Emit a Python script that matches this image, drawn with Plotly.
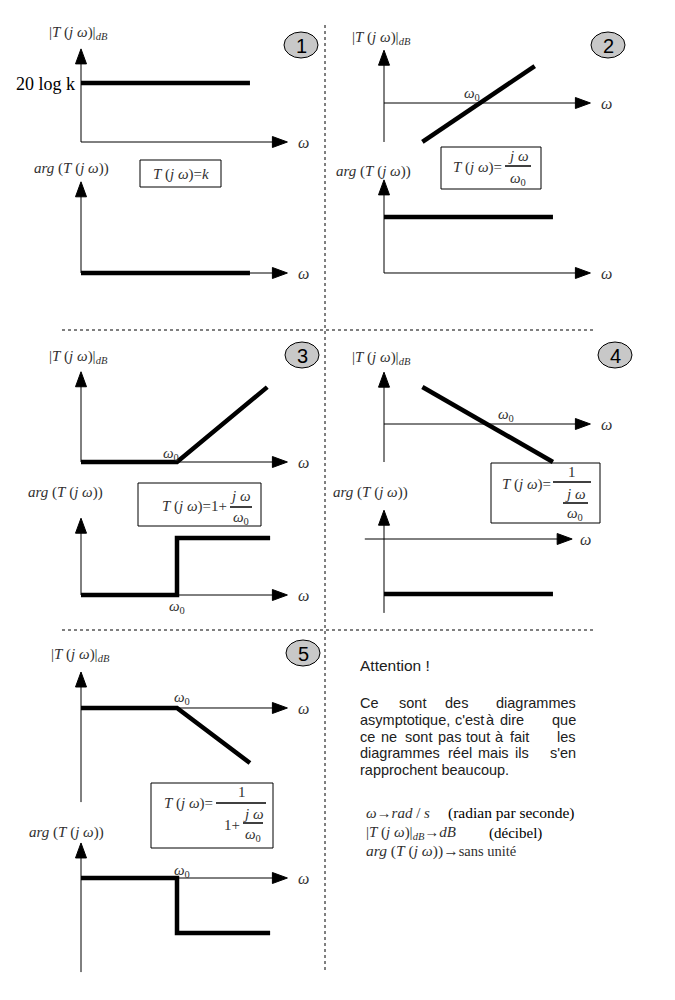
import plotly.graph_objects as go

# ---------------- data: asymptotic Bode curves (ω in units of ω0, arbitrary level units) ----------------
p1_gain_w = [0.0, 1.76]
p1_gain_v = [0.615, 0.615]
p1_phase_w = [0.0, 1.76]
p1_phase_v = [0.0, 0.0]

p2_gain_w = [0.4, 1.57]
p2_gain_v = [-0.406, 0.385]
p2_phase_w = [0.0, 1.76]
p2_phase_v = [0.583, 0.583]

p3_gain_w = [0.0, 1.0, 1.94]
p3_gain_v = [0.0, 0.0, 0.78]
p3_phase_w = [0.0, 1.0, 1.0, 1.97]
p3_phase_v = [0.0, 0.0, 0.594, 0.594]

p4_gain_w = [0.4, 1.76]
p4_gain_v = [0.385, -0.396]
p4_phase_w = [0.0, 1.76]
p4_phase_v = [-0.573, -0.573]

p5_gain_w = [0.0, 1.0, 1.76]
p5_gain_v = [0.0, 0.0, -0.573]
p5_phase_w = [0.0, 1.0, 1.0, 1.97]
p5_phase_v = [0.0, 0.0, -0.573, -0.573]

panel_numbers = ["1", "2", "3", "4", "5"]

# ---------------- layout constants ----------------
OFF = 8                       # default page margin around the plot div
W, H = 667, 984
S = 96.0                      # pixels per unit on every small diagram
ARW_L, ARW_H = 15 / S, 5.5 / S
SERIF = "Liberation Serif"
SANS = "Liberation Sans"
TXT = "#303030"

diagrams = [
    dict(o=(81, 142), x=(0, 2.15), y=(0, 0.97), w=p1_gain_w, v=p1_gain_v),
    dict(o=(81, 273), x=(0, 2.15), y=(0, 0.95), w=p1_phase_w, v=p1_phase_v),
    dict(o=(384, 103), x=(0, 2.15), y=(-0.406, 0.55), w=p2_gain_w, v=p2_gain_v),
    dict(o=(384, 273), x=(0, 2.15), y=(0, 0.97), w=p2_phase_w, v=p2_phase_v),
    dict(o=(81, 462), x=(0, 2.15), y=(0, 0.94), w=p3_gain_w, v=p3_gain_v),
    dict(o=(81, 595), x=(0, 2.15), y=(0, 0.80), w=p3_phase_w, v=p3_phase_v),
    dict(o=(384, 424), x=(0, 2.15), y=(-0.396, 0.54), w=p4_gain_w, v=p4_gain_v),
    dict(o=(384, 539), x=(-0.2, 1.96), y=(-0.77, 0.30), w=p4_phase_w, v=p4_phase_v),
    dict(o=(81, 708), x=(0, 2.15), y=(-0.98, 0.375), w=p5_gain_w, v=p5_gain_v),
    dict(o=(81, 878), x=(0, 2.15), y=(-0.98, 0.365), w=p5_phase_w, v=p5_phase_v),
]


def P(x, y):
    return (x - OFF) / W, 1 - (y - OFF) / H


fig = go.Figure()
axes_layout = {}
for i, d in enumerate(diagrams, start=1):
    ox, oy = d["o"]
    xr = [d["x"][0] - 0.3, d["x"][1] + 0.3]
    yr = [d["y"][0] - 0.2, d["y"][1] + 0.2]
    xdom = [P(ox + xr[0] * S, 0)[0], P(ox + xr[1] * S, 0)[0]]
    ydom = [P(0, oy - yr[0] * S)[1], P(0, oy - yr[1] * S)[1]]
    sx = "" if i == 1 else str(i)
    axes_layout["xaxis" + sx] = dict(domain=xdom, range=xr, visible=False, fixedrange=True, anchor="y" + sx)
    axes_layout["yaxis" + sx] = dict(domain=ydom, range=yr, visible=False, fixedrange=True, anchor="x" + sx)
    xa, ya = "x" + sx, "y" + sx
    xs, xt = d["x"]
    ys, yt = d["y"]
    line1 = dict(color="black", width=1)
    # x axis
    fig.add_trace(go.Scatter(x=[xs, xt - ARW_L * 0.5], y=[0, 0], mode="lines", line=line1,
                             xaxis=xa, yaxis=ya, hoverinfo="skip", cliponaxis=False))
    fig.add_trace(go.Scatter(x=[xt, xt - ARW_L, xt - ARW_L, xt], y=[0, ARW_H, -ARW_H, 0], mode="lines",
                             fill="toself", fillcolor="black", line=dict(color="black", width=1),
                             xaxis=xa, yaxis=ya, hoverinfo="skip", cliponaxis=False))
    # y axis
    fig.add_trace(go.Scatter(x=[0, 0], y=[ys, yt - ARW_L * 0.5], mode="lines", line=line1,
                             xaxis=xa, yaxis=ya, hoverinfo="skip", cliponaxis=False))
    fig.add_trace(go.Scatter(x=[0, ARW_H, -ARW_H, 0], y=[yt, yt - ARW_L, yt - ARW_L, yt], mode="lines",
                             fill="toself", fillcolor="black", line=dict(color="black", width=1),
                             xaxis=xa, yaxis=ya, hoverinfo="skip", cliponaxis=False))
    # asymptotic curve
    fig.add_trace(go.Scatter(x=d["w"], y=d["v"], mode="lines", line=dict(color="black", width=4.5),
                             xaxis=xa, yaxis=ya, hoverinfo="skip", cliponaxis=False))


annotations = []


def A(x, y, text, size=15, family=SERIF, xa="left", color=TXT):
    px, py = P(x, y)
    annotations.append(dict(x=px, y=py, xref="paper", yref="paper", text=text, showarrow=False,
                            xanchor=xa, yanchor="middle", font=dict(size=size, family=family, color=color)))


shapes = []


def L(x0, y0, x1, y1, width=1.5, dash=None):
    a, b = P(x0, y0)
    c, d = P(x1, y1)
    ln = dict(color="black", width=width)
    if dash:
        ln["dash"] = dash
    shapes.append(dict(type="line", xref="paper", yref="paper", x0=a, y0=b, x1=c, y1=d, line=ln))


def R(x0, y0, x1, y1):
    a, b = P(x0, y0)
    c, d = P(x1, y1)
    shapes.append(dict(type="rect", xref="paper", yref="paper", x0=a, y0=b, x1=c, y1=d,
                       line=dict(color="black", width=1), fillcolor="rgba(0,0,0,0)"))


def C(cx, cy, rx, ry, label):
    a, b = P(cx - rx, cy - ry)
    c, d = P(cx + rx, cy + ry)
    shapes.append(dict(type="circle", xref="paper", yref="paper", x0=a, y0=b, x1=c, y1=d,
                       line=dict(color="black", width=1), fillcolor="#c8c8c8"))
    A(cx, cy + 1, label, size=20, family=SANS, xa="center", color="black")


GAIN = "|<i>T</i> (<i>j ω</i>)|<sub><i>dB</i></sub>"
PHASE = "<i>arg</i> (<i>T</i> (<i>j ω</i>))"
TJW = "<i>T</i> (<i>j ω</i>)="
OM = "<i>ω</i>"
OM0 = "<i>ω</i><sub>0</sub>"
JW = "<i>j ω</i>"

# separators
L(325, 25, 325, 972, width=1, dash="dot")
L(62, 330, 593, 330, width=1, dash="dot")
L(62, 630, 593, 630, width=1, dash="dot")

# panel numbers
C(301, 45, 17, 13, panel_numbers[0])
C(608, 45, 17, 13, panel_numbers[1])
C(302, 355, 17, 13, panel_numbers[2])
C(615, 355, 17, 13, panel_numbers[3])
C(303, 653, 17, 13, panel_numbers[4])

# axis labels
A(47, 33, GAIN)
A(32, 169, PHASE)
A(350, 38, GAIN)
A(334, 171, PHASE)
A(47, 357, GAIN)
A(26, 492, PHASE)
A(350, 358, GAIN)
A(331, 492, PHASE)
A(49, 655, GAIN)
A(27, 832, PHASE)

# omega labels at axis tips
for (x, y) in [(303, 142), (303, 273), (606, 103), (606, 273), (303, 462), (303, 595),
               (606, 424), (585, 539), (303, 708), (303, 878)]:
    A(x, y, OM, size=16, xa="center")

# omega0 labels
A(472, 94, OM0, xa="center")
A(171, 454, OM0, xa="center")
A(177, 607, OM0, xa="center")
A(506, 415, OM0, xa="center")
A(182, 698, OM0, xa="center")
A(182, 871, OM0, xa="center")

# "20 log k"
A(77, 84, "20 log k", size=18, family=SERIF, xa="right", color="black")

# box 1
R(140, 160, 221, 187)
A(180.5, 174, TJW + "<i>k</i>", xa="center")
# box 2
R(441, 147, 541, 189)
A(504, 167, TJW, xa="right")
A(518, 156, JW, xa="center")
L(505, 166, 531, 166)
A(518, 179, OM0, xa="center")
# box 3
R(138, 483, 261, 526)
A(229, 506, TJW + "1+", xa="right")
A(241, 496, JW, xa="center")
L(230, 507, 252, 507)
A(241, 518, OM0, xa="center")
# box 4
R(491, 463, 600, 523)
A(553, 484, TJW, xa="right")
A(572, 472, "1", xa="center")
L(553, 482, 591, 482)
A(575, 494, JW, xa="center")
L(563, 503, 588, 503)
A(575, 514, OM0, xa="center")
# box 5
R(151, 783, 273, 848)
A(215, 803, TJW, xa="right")
A(242, 792, "1", xa="center")
L(216, 803, 266, 803)
A(242, 825, "1+", xa="right")
A(253, 814, JW, xa="center")
L(243, 823, 263, 823)
A(253, 835, OM0, xa="center")

# text block (justified: first word left, last word right, others centred)
PS = 14.5
PC = "#202020"
A(358, 665, "Attention !", size=15.5, family=SANS, color=PC)
para = [
    (703, "Ce", [("sont", 412.5), ("des", 456.5)], "diagrammes"),
    (720, "asymptotique,", [("c'est", 469), ("à", 490), ("dire", 512)], "que"),
    (737, "ce", [("ne", 388.5), ("sont", 418), ("pas", 449), ("tout", 478), ("à", 499.5), ("fait", 519)], "les"),
    (753, "diagrammes", [("réel", 460), ("mais", 493), ("ils", 522)], "s'en"),
]
for y, first, mids, last in para:
    A(358, y, first, size=PS, family=SANS, color=PC)
    for wtxt, x in mids:
        A(x, y, wtxt, size=PS, family=SANS, xa="center", color=PC)
    A(578, y, last, size=PS, family=SANS, xa="right", color=PC)
A(358, 770, "rapprochent beaucoup.", size=PS, family=SANS, color=PC)

A(364, 813, "<i>ω</i>→<i>rad</i> / <i>s</i>", size=15)
A(446, 813, "(radian par seconde)", size=15.5, color="black")
A(364, 833, GAIN + "→<i>dB</i>", size=15)
A(487, 833, "(décibel)", size=15, color="black")
A(364, 851, PHASE + "→<span style='font-size:14.5px'>sans unité</span>", size=15.5)

fig.update_layout(
    width=W, height=H, margin=dict(l=0, r=0, t=0, b=0),
    paper_bgcolor="white", plot_bgcolor="white", showlegend=False,
    annotations=annotations, shapes=shapes, **axes_layout,
)
fig.write_html("out.html", config={"displayModeBar": False})
